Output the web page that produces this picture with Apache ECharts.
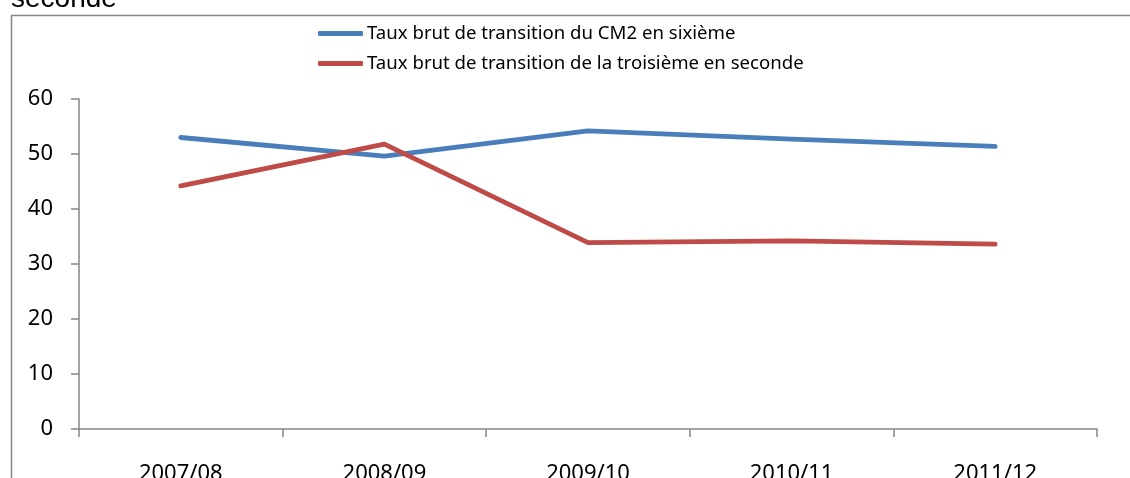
<!DOCTYPE html>
<html>
<head>
<meta charset="utf-8">
<script src="https://cdn.jsdelivr.net/npm/echarts@6/dist/echarts.min.js"></script>
<style>
  html, body { margin: 0; padding: 0; background: #fff; }
  #chart { width: 1130px; height: 478px; }
</style>
</head>
<body>
<div id="chart"></div>
<script>
// years on the x axis
var years = ['2007/08', '2008/09', '2009/10', '2010/11', '2011/12']
// CM2 -> sixième
var cm2Sixieme = [53.0, 49.6, 54.2, 52.7, 51.4]
// troisième -> seconde
var troisiemeSeconde = [44.2, 51.8, 33.9, 34.2, 33.6]
var seriesNames = [
  'Taux brut de transition du CM2 en sixième',
  'Taux brut de transition de la troisième en seconde'
]

var axisGray = '#868686'
var fontFam = '"Noto Sans", sans-serif'

var chart = echarts.init(document.getElementById('chart'))
var opt = {
  animation: false,
  graphic: [
    {
      type: 'rect',
      shape: { x: 11.5, y: 15.5, width: 1200, height: 500 },
      style: { fill: 'none', stroke: axisGray, lineWidth: 1.5 },
      silent: true
    },
    {
      // title text cut off by the top edge, as in the source picture
      type: 'text',
      x: 11,
      y: -15,
      style: { text: 'seconde', font: '28px "Liberation Sans", Arial, sans-serif', fill: '#000', textVerticalAlign: 'top' },
      silent: true
    }
  ],
  legend: {
    orient: 'vertical',
    left: 313,
    top: 19,
    itemWidth: 45,
    itemHeight: 5,
    itemGap: 11,
    icon: 'roundRect',
    textStyle: { fontFamily: fontFam, fontSize: 18.6, color: '#000', padding: [0, 0, 0, -1] },
    data: seriesNames
  },
  grid: { left: 79, right: 33, top: 99, bottom: 49, outerBoundsMode: 'none', containLabel: false },
  xAxis: {
    type: 'category',
    data: years,
    boundaryGap: true,
    axisLine: { lineStyle: { color: axisGray, width: 1.5 } },
    axisTick: { show: true, length: 8, alignWithLabel: false, lineStyle: { color: axisGray, width: 1.5 } },
    axisLabel: { color: '#000', fontFamily: fontFam, fontSize: 22, margin: 34 }
  },
  yAxis: {
    type: 'value',
    min: 0,
    max: 60,
    interval: 10,
    axisLine: { show: true, lineStyle: { color: axisGray, width: 1.5 } },
    axisTick: { show: true, length: 8, lineStyle: { color: axisGray, width: 1.5 } },
    axisLabel: { color: '#000', fontFamily: fontFam, fontSize: 22, margin: 26 },
    splitLine: { show: false }
  },
  series: [
    {
      name: seriesNames[0],
      type: 'line',
      data: cm2Sixieme,
      symbol: 'none',
      lineStyle: { color: '#4a7ebb', width: 4.8, cap: 'round', join: 'round' },
      itemStyle: { color: '#4a7ebb' }
    },
    {
      name: seriesNames[1],
      type: 'line',
      data: troisiemeSeconde,
      symbol: 'none',
      lineStyle: { color: '#be4b48', width: 4.8, cap: 'round', join: 'round' },
      itemStyle: { color: '#be4b48' }
    }
  ]
}
chart.setOption(opt)
</script>
</body>
</html>
